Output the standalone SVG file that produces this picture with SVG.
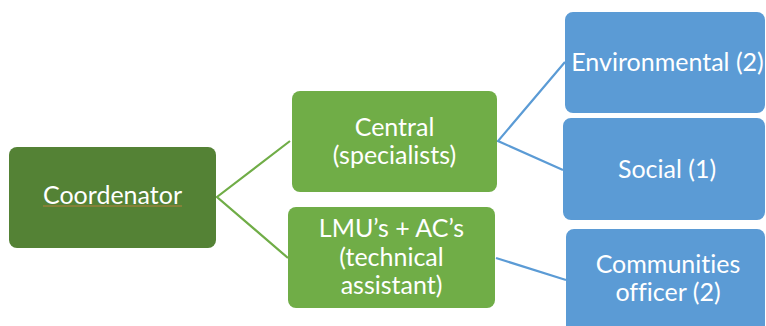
<svg xmlns="http://www.w3.org/2000/svg" width="766" height="326" viewBox="0 0 766 326">
  <style>
    .lbl { font-family: Lato, "Open Sans", "Liberation Sans", sans-serif; font-size: 25px; fill: #ffffff; text-anchor: middle; font-variant-ligatures: none; }
    .dark { fill: #548235; }
    .green { fill: #70ad47; }
    .blue { fill: #5b9bd5; }
    .cg { stroke: #70ad47; stroke-width: 2.2; fill: none; }
    .cb { stroke: #5b9bd5; stroke-width: 2.2; fill: none; }
  </style>
  <rect width="766" height="326" fill="#ffffff"/>

  <g id="connectors">
    <polyline class="cg" points="290,141 217,197 288,258"/>
    <polyline class="cb" points="565,62 498,141 563,170"/>
    <line class="cb" x1="496" y1="258" x2="566" y2="280"/>
  </g>

  <g id="coordinator">
    <rect class="dark" x="9" y="147" width="207" height="101" rx="8"/>
    <text class="lbl" x="112.5" y="204">Coordenator</text>
    <line x1="43" y1="206" x2="182" y2="206" stroke="#b5803f" stroke-width="1"/>
  </g>

  <g id="central">
    <rect class="green" x="292" y="91" width="205" height="101" rx="8"/>
    <text class="lbl" x="394.5" y="136">Central</text>
    <text class="lbl" x="394.5" y="164">(specialists)</text>
  </g>

  <g id="lmu">
    <rect class="green" x="288" y="207" width="207" height="101" rx="8"/>
    <text class="lbl" x="391.5" y="237">LMU’s + AC’s</text>
    <text class="lbl" x="391.5" y="266">(technical</text>
    <text class="lbl" x="391.5" y="294">assistant)</text>
  </g>

  <g id="environmental">
    <rect class="blue" x="565" y="12" width="200" height="101" rx="8"/>
    <text class="lbl" x="667.5" y="71">Environmental (2)</text>
  </g>

  <g id="social">
    <rect class="blue" x="563" y="118" width="202" height="102" rx="8"/>
    <text class="lbl" x="667" y="178">Social (1)</text>
  </g>

  <g id="communities">
    <rect class="blue" x="566" y="229" width="199" height="110" rx="8"/>
    <text class="lbl" x="668" y="273">Communities</text>
    <text class="lbl" x="668" y="301">officer (2)</text>
  </g>
</svg>
